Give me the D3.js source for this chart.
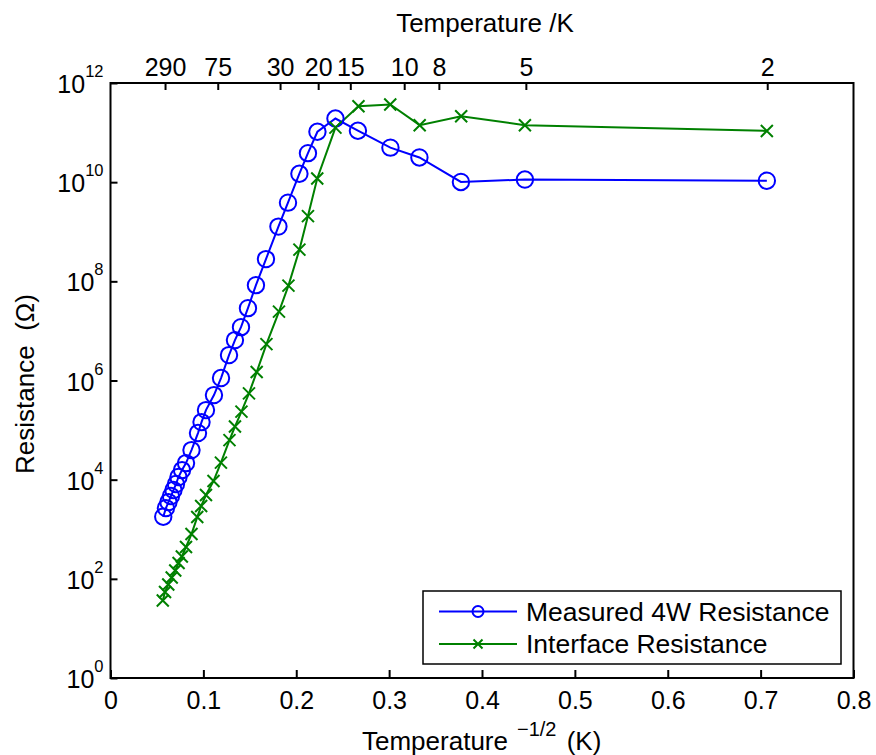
<!DOCTYPE html>
<html>
<head>
<meta charset="utf-8">
<script src="https://cdn.jsdelivr.net/npm/d3@7"></script>
<style>
  html, body { margin: 0; padding: 0; background: #fff; }
  svg { display: block; font-family: "Liberation Sans", Arial, Helvetica, sans-serif; }
</style>
</head>
<body>
<svg id="chart" width="876" height="755"></svg>
<script>
// ---- Data ----
const seriesNames = ["Measured 4W Resistance", "Interface Resistance"];

// Measured 4W Resistance: x = T^(-1/2) (K^-1/2), y = resistance (Ohm)
const measuredX = [0.0568, 0.0597, 0.0624, 0.0651, 0.0678, 0.0705, 0.0732, 0.0770, 0.0813, 0.0872,
                   0.0942, 0.0980, 0.1028, 0.1114, 0.1190, 0.1276, 0.1340, 0.1405, 0.1480, 0.1566,
                   0.1674, 0.1808, 0.1911, 0.2034, 0.2126, 0.2228, 0.2422, 0.2664, 0.3014, 0.3326,
                   0.3773, 0.4462, 0.7067];
const measuredY = [1.79e3, 2.67e3, 3.53e3, 4.67e3, 6.17e3, 8.15e3, 1.13e4, 1.56e4, 2.16e4, 3.95e4,
                   8.71e4, 1.45e5, 2.53e5, 5.08e5, 1.12e6, 3.25e6, 6.53e6, 1.19e7, 2.88e7, 8.38e7,
                   2.81e8, 1.27e9, 3.86e9, 1.48e10, 3.85e10, 1.04e11, 1.92e11, 1.09e11, 4.97e10, 3.15e10,
                   1.01e10, 1.13e10, 1.07e10];

// Interface Resistance
const interfaceX = [0.0563, 0.0587, 0.0622, 0.0659, 0.0697, 0.0733, 0.0768, 0.0813, 0.0872, 0.0934,
                    0.0976, 0.1028, 0.1109, 0.1189, 0.1281, 0.1340, 0.1410, 0.1491, 0.1574, 0.1679,
                    0.1814, 0.1916, 0.2034, 0.2126, 0.2226, 0.2422, 0.2670, 0.3012, 0.3329, 0.3776,
                    0.4462, 0.7067];
const interfaceY = [36.6, 54.2, 76.7, 106, 147, 208, 282, 438, 800, 1.76e3,
                    2.94e3, 4.90e3, 9.38e3, 2.21e4, 6.28e4, 1.18e5, 2.36e5, 5.50e5, 1.48e6, 5.42e6,
                    2.45e7, 8.18e7, 4.36e8, 2.07e9, 1.19e10, 1.26e11, 3.40e11, 3.69e11, 1.41e11, 2.14e11,
                    1.41e11, 1.08e11];

// Tick labels
const xTicks = [0, 0.1, 0.2, 0.3, 0.4, 0.5, 0.6, 0.7, 0.8];
const yTickExponents = [0, 2, 4, 6, 8, 10, 12];
const topTempTicks = [290, 75, 30, 20, 15, 10, 8, 5, 2];

// ---- Layout ----
const svg = d3.select("#chart");
const margin = { left: 110.5, right: 853.5, top: 83, bottom: 678 };
const FONT = 25, TITLE_FONT = 26;
const blue = "#0000ff", green = "#008000";

const x = d3.scaleLinear().domain([0, 0.8]).range([margin.left, margin.right]);
const y = d3.scaleLog().domain([1, 1e12]).range([margin.bottom, margin.top]);

// Plot box
svg.append("rect")
  .attr("x", margin.left).attr("y", margin.top)
  .attr("width", margin.right - margin.left).attr("height", margin.bottom - margin.top)
  .attr("fill", "none").attr("stroke", "#000").attr("stroke-width", 2);

// Bottom axis
const gx = svg.append("g").attr("transform", `translate(0,${margin.bottom})`)
  .call(d3.axisBottom(x).tickValues(xTicks).tickSizeInner(-8).tickSizeOuter(0).tickPadding(13)
        .tickFormat(d => d === 0 ? "0" : d3.format(".1f")(d)));
gx.select(".domain").remove();
gx.selectAll(".tick line").attr("stroke", "#000").attr("stroke-width", 2);
gx.selectAll(".tick text").attr("font-size", FONT).attr("fill", "#000").style("font-family", "inherit");

// Top axis (temperature)
const gt = svg.append("g").attr("transform", `translate(0,${margin.top})`)
  .call(d3.axisTop(x).tickValues(topTempTicks.map(t => 1 / Math.sqrt(t)))
        .tickSizeInner(-7).tickSizeOuter(0).tickPadding(7)
        .tickFormat((d, i) => String(topTempTicks[i])));
gt.select(".domain").remove();
gt.selectAll(".tick line").attr("stroke", "#000").attr("stroke-width", 2);
gt.selectAll(".tick text").attr("font-size", FONT).attr("fill", "#000").style("font-family", "inherit");

// Left axis with 10^n labels
const gy = svg.append("g").attr("transform", `translate(${margin.left},0)`)
  .call(d3.axisLeft(y).tickValues(yTickExponents.map(e => Math.pow(10, e)))
        .tickSizeInner(-7).tickSizeOuter(0).tickFormat(""));
gy.select(".domain").remove();
gy.selectAll(".tick line").attr("stroke", "#000").attr("stroke-width", 2);
gy.selectAll(".tick").each(function(d, i) {
  const t = d3.select(this).append("text")
    .attr("x", -7).attr("y", 9.5)
    .attr("text-anchor", "end").attr("fill", "#000").attr("font-size", FONT);
  t.append("tspan").text("10");
  t.append("tspan").attr("font-size", 16.5).attr("dy", -16).text(String(yTickExponents[i]));
});

// Axis titles
svg.append("text").attr("x", 485).attr("y", 32).attr("text-anchor", "middle")
  .attr("font-size", TITLE_FONT).text("Temperature /K");

const xl = svg.append("text").attr("x", 362).attr("y", 750).attr("text-anchor", "start")
  .attr("font-size", TITLE_FONT);
xl.append("tspan").text("Temperature");
xl.append("tspan").attr("font-size", 20).attr("dx", 9).attr("dy", -14).text("\u22121/2");
xl.append("tspan").attr("dx", 3).attr("dy", 14).text(" (K)");

svg.append("text").attr("transform", "translate(34,384) rotate(-90)")
  .attr("text-anchor", "middle").attr("font-size", TITLE_FONT)
  .attr("xml:space", "preserve").text("Resistance  (\u03A9)");

// ---- Series ----
const measured = measuredX.map((v, i) => [v, measuredY[i]]);
const iface = interfaceX.map((v, i) => [v, interfaceY[i]]);
const line = d3.line().x(d => x(d[0])).y(d => y(d[1]));

const plot = svg.append("g");
plot.append("path").datum(measured).attr("d", line)
  .attr("fill", "none").attr("stroke", blue).attr("stroke-width", 2);
plot.append("path").datum(iface).attr("d", line)
  .attr("fill", "none").attr("stroke", green).attr("stroke-width", 2);

plot.selectAll("circle.m").data(measured).join("circle").attr("class", "m")
  .attr("cx", d => x(d[0])).attr("cy", d => y(d[1])).attr("r", 8.2)
  .attr("fill", "none").attr("stroke", blue).attr("stroke-width", 2);

const xMark = (cx, cy, s) => `M${cx - s},${cy - s}L${cx + s},${cy + s}M${cx - s},${cy + s}L${cx + s},${cy - s}`;
plot.selectAll("path.x").data(iface).join("path").attr("class", "x")
  .attr("d", d => xMark(x(d[0]), y(d[1]), 6))
  .attr("fill", "none").attr("stroke", green).attr("stroke-width", 2);

// ---- Legend ----
const lg = svg.append("g");
lg.append("rect").attr("x", 423).attr("y", 591).attr("width", 418).attr("height", 73)
  .attr("fill", "#fff").attr("stroke", "#000").attr("stroke-width", 1.5);
const rows = [
  { name: seriesNames[0], color: blue, y: 611.5, marker: "o" },
  { name: seriesNames[1], color: green, y: 644, marker: "x" }
];
rows.forEach(r => {
  lg.append("line").attr("x1", 439).attr("x2", 517).attr("y1", r.y).attr("y2", r.y)
    .attr("stroke", r.color).attr("stroke-width", 2);
  if (r.marker === "o") {
    lg.append("circle").attr("cx", 478).attr("cy", r.y).attr("r", 5.5)
      .attr("fill", "none").attr("stroke", r.color).attr("stroke-width", 2);
  } else {
    lg.append("path").attr("d", xMark(478, r.y, 4.5))
      .attr("fill", "none").attr("stroke", r.color).attr("stroke-width", 2);
  }
  lg.append("text").attr("x", 526).attr("y", r.y).attr("dy", "0.35em")
    .attr("font-size", 26.5).attr("fill", "#000").text(r.name);
});
</script>
</body>
</html>
